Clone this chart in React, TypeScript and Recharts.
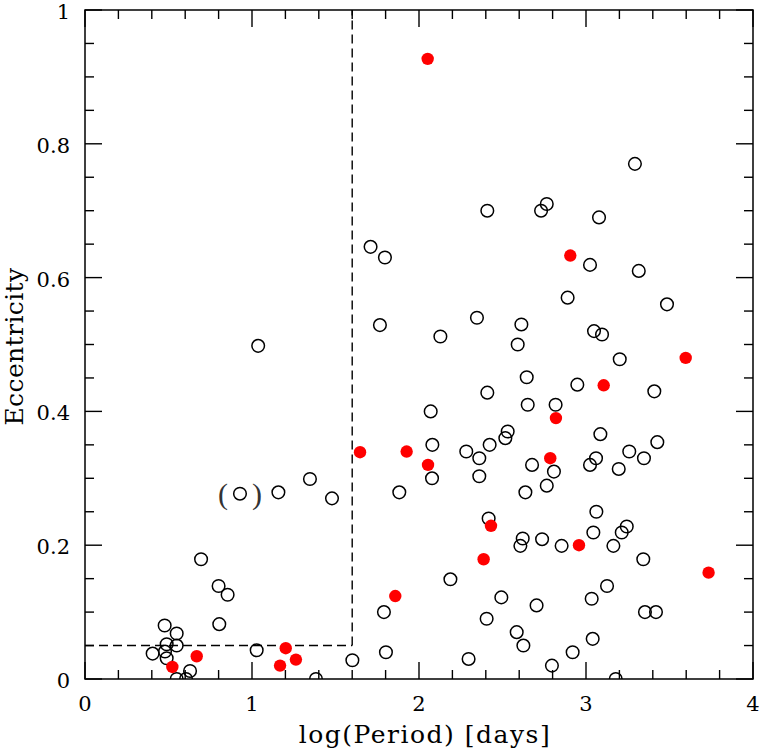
import React from 'react';
import { ScatterChart, Scatter, XAxis, YAxis, ReferenceLine, ReferenceArea, Label } from 'recharts';

// log(Period) [days] and eccentricity, open circles
const openPoints = [
  { p: 0.477, e: 0.080 }, { p: 0.549, e: 0.068 }, { p: 0.804, e: 0.082 }, { p: 0.489, e: 0.052 },
  { p: 0.549, e: 0.050 }, { p: 0.405, e: 0.038 }, { p: 0.479, e: 0.041 }, { p: 0.489, e: 0.031 },
  { p: 0.629, e: 0.012 }, { p: 0.549, e: 0.0 }, { p: 0.605, e: 0.0 }, { p: 1.028, e: 0.043 },
  { p: 1.383, e: 0.0 }, { p: 1.601, e: 0.028 }, { p: 0.695, e: 0.179 }, { p: 0.800, e: 0.139 },
  { p: 0.854, e: 0.126 }, { p: 1.158, e: 0.279 }, { p: 1.347, e: 0.299 }, { p: 1.479, e: 0.270 },
  { p: 1.037, e: 0.498 },
  { p: 1.710, e: 0.646 }, { p: 1.766, e: 0.529 }, { p: 1.796, e: 0.630 }, { p: 2.409, e: 0.700 },
  { p: 2.731, e: 0.700 }, { p: 2.765, e: 0.710 }, { p: 3.078, e: 0.690 }, { p: 3.293, e: 0.770 },
  { p: 3.024, e: 0.619 }, { p: 3.316, e: 0.610 }, { p: 2.890, e: 0.570 }, { p: 3.485, e: 0.560 },
  { p: 2.347, e: 0.540 }, { p: 2.128, e: 0.512 }, { p: 2.613, e: 0.530 }, { p: 2.591, e: 0.500 },
  { p: 3.048, e: 0.520 }, { p: 3.096, e: 0.515 }, { p: 3.202, e: 0.478 }, { p: 2.645, e: 0.451 },
  { p: 2.948, e: 0.440 }, { p: 2.409, e: 0.428 }, { p: 3.409, e: 0.430 }, { p: 2.651, e: 0.410 },
  { p: 2.818, e: 0.410 }, { p: 2.070, e: 0.400 }, { p: 2.531, e: 0.370 }, { p: 2.517, e: 0.360 },
  { p: 3.086, e: 0.366 }, { p: 3.427, e: 0.354 }, { p: 2.080, e: 0.350 }, { p: 2.283, e: 0.340 },
  { p: 2.361, e: 0.330 }, { p: 2.423, e: 0.350 }, { p: 2.677, e: 0.320 }, { p: 2.808, e: 0.310 },
  { p: 3.060, e: 0.330 }, { p: 3.024, e: 0.320 }, { p: 3.196, e: 0.314 }, { p: 3.259, e: 0.340 },
  { p: 3.347, e: 0.330 }, { p: 2.078, e: 0.300 }, { p: 2.361, e: 0.303 }, { p: 1.882, e: 0.279 },
  { p: 2.637, e: 0.279 }, { p: 2.765, e: 0.289 }, { p: 3.062, e: 0.250 }, { p: 2.417, e: 0.240 },
  { p: 2.621, e: 0.210 }, { p: 2.607, e: 0.199 }, { p: 2.737, e: 0.209 }, { p: 2.854, e: 0.199 },
  { p: 3.044, e: 0.219 }, { p: 3.164, e: 0.199 }, { p: 3.214, e: 0.219 }, { p: 3.244, e: 0.228 },
  { p: 3.343, e: 0.179 }, { p: 2.188, e: 0.149 }, { p: 3.126, e: 0.139 }, { p: 2.493, e: 0.122 },
  { p: 2.704, e: 0.110 }, { p: 3.034, e: 0.120 }, { p: 1.790, e: 0.100 }, { p: 2.405, e: 0.090 },
  { p: 3.353, e: 0.100 }, { p: 3.419, e: 0.100 }, { p: 2.585, e: 0.070 }, { p: 3.040, e: 0.060 },
  { p: 2.625, e: 0.050 }, { p: 1.802, e: 0.040 }, { p: 2.920, e: 0.040 }, { p: 2.297, e: 0.030 },
  { p: 2.796, e: 0.020 }, { p: 3.178, e: 0.0 },
];

// filled red points
const filledPoints = [
  { p: 2.052, e: 0.927 }, { p: 2.906, e: 0.633 }, { p: 3.597, e: 0.480 }, { p: 3.106, e: 0.439 },
  { p: 2.820, e: 0.390 }, { p: 1.647, e: 0.339 }, { p: 1.926, e: 0.340 }, { p: 2.786, e: 0.330 },
  { p: 2.054, e: 0.320 }, { p: 2.431, e: 0.229 }, { p: 2.958, e: 0.200 }, { p: 2.387, e: 0.179 },
  { p: 3.734, e: 0.159 }, { p: 1.858, e: 0.124 }, { p: 0.523, e: 0.018 }, { p: 0.669, e: 0.034 },
  { p: 1.202, e: 0.046 }, { p: 1.263, e: 0.029 }, { p: 1.168, e: 0.020 },
];

// uncertain point shown in parentheses
const bracketPoints = [{ p: 0.928, e: 0.277 }];

// dividing lines
const cutPeriod = 1.6;
const cutEcc = 0.05;

const xTicks = [0, 0.2, 0.4, 0.6, 0.8, 1, 1.2, 1.4, 1.6, 1.8, 2, 2.2, 2.4, 2.6, 2.8, 3, 3.2, 3.4, 3.6, 3.8, 4];
const xMajor = [0, 1, 2, 3, 4];
const yTicks = [0, 0.05, 0.1, 0.15, 0.2, 0.25, 0.3, 0.35, 0.4, 0.45, 0.5, 0.55, 0.6, 0.65, 0.7, 0.75, 0.8, 0.85, 0.9, 0.95, 1];
const yMajor = [0, 0.2, 0.4, 0.6, 0.8, 1];

const W = 761;
const H = 752;
const M = { top: 10, right: 8, bottom: 0, left: 0 };
const Y_AXIS_W = 85;
const X_AXIS_H = 73;
const PLOT_TOP = M.top;
const PLOT_RIGHT = W - M.right;

const FONT = '"DejaVu Serif", serif';
const isMajor = (list: number[], v: number) => list.some((m) => Math.abs(m - v) < 1e-9);

const XTick = (props: any) => {
  const { x, y, payload } = props;
  const v = payload.value;
  const major = isMajor(xMajor, v);
  const len = major ? 17 : 9;
  return (
    <g>
      <line x1={x} y1={y} x2={x} y2={y - len} stroke="#000" strokeWidth={1.4} />
      <line x1={x} y1={PLOT_TOP} x2={x} y2={PLOT_TOP + len} stroke="#000" strokeWidth={1.4} />
      {major && (
        <text x={x} y={y + 25} textAnchor="middle" dominantBaseline="central" fontFamily={FONT} fontSize={21} fill="#000">
          {String(v)}
        </text>
      )}
    </g>
  );
};

const YTick = (props: any) => {
  const { x, y, payload } = props;
  const v = payload.value;
  const major = isMajor(yMajor, v);
  const len = major ? 17 : 9;
  return (
    <g>
      <line x1={x} y1={y} x2={x + len} y2={y} stroke="#000" strokeWidth={1.4} />
      <line x1={PLOT_RIGHT} y1={y} x2={PLOT_RIGHT - len} y2={y} stroke="#000" strokeWidth={1.4} />
      {major && (
        <text x={x - 15} y={y + 2} textAnchor="end" dominantBaseline="central" fontFamily={FONT} fontSize={21} fill="#000">
          {String(v)}
        </text>
      )}
    </g>
  );
};

const OpenDot = (props: any) => (
  <circle cx={props.cx} cy={props.cy} r={6.3} fill="none" stroke="#000" strokeWidth={1.5} />
);
const RedDot = (props: any) => <circle cx={props.cx} cy={props.cy} r={6.2} fill="#ff0000" stroke="none" />;
const PAREN_FONT = '"Liberation Serif", serif';
const BracketDot = (props: any) => (
  <g>
    <circle cx={props.cx} cy={props.cy} r={6.3} fill="none" stroke="#000" strokeWidth={1.5} />
    <text x={props.cx - 17} y={props.cy} textAnchor="middle" dominantBaseline="central" fontFamily={PAREN_FONT} fontSize={30} fill="#333">(</text>
    <text x={props.cx + 17} y={props.cy} textAnchor="middle" dominantBaseline="central" fontFamily={PAREN_FONT} fontSize={30} fill="#333">)</text>
  </g>
);

const XLabel = (props: any) => {
  const vb = props.viewBox;
  return (
    <text x={vb.x + vb.width / 2 + 6} y={H - 9} textAnchor="middle" fontFamily={FONT} fontSize={25} letterSpacing={1.5} fill="#000">
      log(Period) [days]
    </text>
  );
};

const YLabel = (props: any) => {
  const vb = props.viewBox;
  const cx = 14;
  const cy = vb.y + vb.height / 2 + 2;
  return (
    <text x={cx} y={cy} transform={`rotate(-90 ${cx} ${cy})`} textAnchor="middle" dominantBaseline="central" fontFamily={FONT} fontSize={25} letterSpacing={0.4} fill="#000">
      Eccentricity
    </text>
  );
};

export default function App() {
  return (
    <div style={{ position: 'absolute', left: 0, top: 0, background: '#fff' }}>
      <ScatterChart width={W} height={H} margin={M}>
        <XAxis
          type="number"
          dataKey="p"
          domain={[0, 4]}
          ticks={xTicks}
          interval={0}
          allowDataOverflow
          axisLine={false}
          tickLine={false}
          tickSize={0}
          tickMargin={0}
          height={X_AXIS_H}
          tick={<XTick />}
        >
          <Label content={<XLabel />} />
        </XAxis>
        <YAxis
          type="number"
          dataKey="e"
          domain={[0, 1]}
          ticks={yTicks}
          interval={0}
          allowDataOverflow
          axisLine={false}
          tickLine={false}
          tickSize={0}
          tickMargin={0}
          width={Y_AXIS_W}
          tick={<YTick />}
        >
          <Label content={<YLabel />} />
        </YAxis>
        <ReferenceArea x1={0} x2={4} y1={0} y2={1} fill="none" stroke="#000" strokeWidth={1.5} ifOverflow="visible" />
        <ReferenceLine
          segment={[{ x: cutPeriod, y: cutEcc }, { x: cutPeriod, y: 1 }]}
          stroke="#000"
          strokeWidth={1.4}
          strokeDasharray="9 5"
          ifOverflow="visible"
        />
        <ReferenceLine
          segment={[{ x: 0, y: cutEcc }, { x: cutPeriod, y: cutEcc }]}
          stroke="#000"
          strokeWidth={1.4}
          strokeDasharray="9 5"
          ifOverflow="visible"
        />
        <Scatter data={openPoints} shape={<OpenDot />} isAnimationActive={false} />
        <Scatter data={bracketPoints} shape={<BracketDot />} isAnimationActive={false} />
        <Scatter data={filledPoints} shape={<RedDot />} isAnimationActive={false} />
      </ScatterChart>
    </div>
  );
}
